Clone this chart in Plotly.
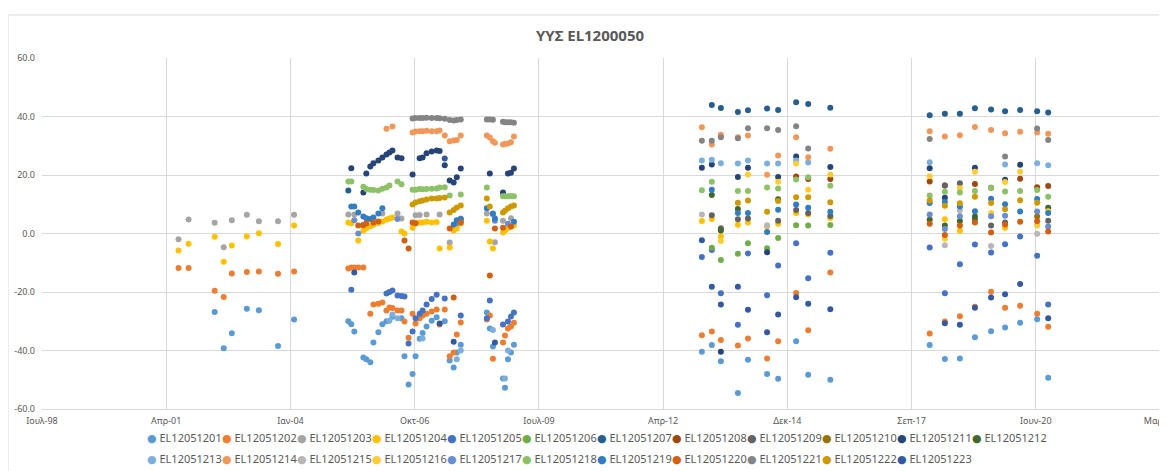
import datetime as dt
import plotly.graph_objects as go

N = None

# ---------------- dates ----------------
DATES_P1 = ["2001-07-27", "2001-10-16", "2002-05-14", "2002-07-26", "2002-09-29",
            "2003-01-28", "2003-05-05", "2003-10-06", "2004-02-12"]
DATES_P2 = ["2005-04-24", "2005-05-18", "2005-06-11", "2005-07-13", "2005-08-23",
            "2005-09-16", "2005-10-18", "2005-11-12", "2005-12-22", "2006-01-23",
            "2006-02-25", "2006-03-21", "2006-04-14", "2006-05-25", "2006-06-26",
            "2006-07-20", "2006-08-22", "2006-09-23", "2006-10-17", "2006-11-19",
            "2006-12-13", "2007-01-14", "2007-02-24", "2007-04-05", "2007-04-29",
            "2007-06-09", "2007-07-19", "2007-08-20", "2007-09-14", "2007-10-16",
            "2008-05-13", "2008-06-06", "2008-07-01", "2008-07-17", "2008-09-20",
            "2008-10-06", "2008-10-30", "2008-11-23", "2008-12-17"]
DATES_P3 = ["2013-02-07", "2013-04-28", "2013-07-10", "2013-11-24", "2014-02-13",
            "2014-07-17", "2014-10-14", "2015-03-08", "2015-06-13", "2015-12-08"]
DATES_P4 = ["2018-02-15", "2018-06-17", "2018-10-16", "2019-02-14", "2019-06-24",
            "2019-10-15", "2020-02-13", "2020-06-29", "2020-09-26"]

# ---------------- axis ticks ----------------
X_TICK_LABELS = ["Ιουλ-98", "Απρ-01", "Ιαν-04", "Οκτ-06", "Ιουλ-09",
                 "Απρ-12", "Δεκ-14", "Σεπ-17", "Ιουν-20", "Μαρ-23"]
Y_TICKS = [-60, -40, -20, 0, 20, 40, 60]

SERIES_NAMES = ["EL120512%02d" % i for i in range(1, 24)]
COLORS = ["#5B9BD5", "#ED7D31", "#A5A5A5", "#FFC000", "#4472C4", "#70AD47",
          "#255E91", "#9E480E", "#636363", "#997300", "#264478", "#43682B",
          "#7CAFDD", "#F1975A", "#B7B7B7", "#FFCD33", "#698ED0", "#8CC168",
          "#327DC2", "#D26012", "#848484", "#CC9A00", "#335AA1"]

# ---------------- period 1 (2001-2004) ----------------
P1_S01 = [N, N, -26.8, -39.2, -34.1, -25.7, -26.2, -38.5, -29.4]
P1_S02 = [-11.8, -11.8, -19.6, -21.7, -13.7, -13.2, -13.0, -13.8, -13.0]
P1_S03 = [-2.0, 4.8, 3.7, -4.7, 4.5, 6.4, 4.2, 4.2, 6.4]
P1_S04 = [-5.8, -3.5, -1.1, -9.7, -4.1, -1.0, 0.1, -3.6, 2.7]

# ---------------- period 2 (2005-2008), sparse: date index -> value ----------------
P2_S01 = {0: -30.0, 1: -31.0, 2: -33.5, 4: -42.4, 5: -43.0, 6: -44.0, 7: -37.3, 8: -33.8,
          9: -31.0, 10: -30.0, 12: -28.5, 14: -29.0, 15: -42.0, 16: -51.6, 17: -48.0,
          18: -42.0, 19: -36.0, 20: -34.0, 21: -31.8, 22: -29.8, 23: -28.6, 25: -30.0,
          26: -43.4, 27: -45.8, 28: -40.7, 29: -38.0, 30: -27.0, 31: -32.5, 32: -38.6,
          34: -49.6, 35: -52.7, 36: -43.0, 37: -40.7, 38: -38.0}
P2_S02 = {0: -12.0, 1: -11.6, 2: -11.6, 3: -11.6, 4: -11.6, 6: -27.4, 7: -24.3, 8: -24.0,
          9: -23.6, 10: -26.3, 11: -25.3, 12: -25.5, 13: -26.3, 14: -26.3, 15: -30.1,
          16: -35.6, 17: -27.4, 18: -30.8, 19: -29.0, 20: -28.0, 21: -27.4, 22: -26.7,
          23: -26.0, 24: -31.1, 25: -26.0, 26: -42.0, 27: -40.7, 28: -34.5, 29: -30.4,
          30: -29.4, 31: -28.0, 32: -42.8, 34: -37.3, 35: -34.9, 36: -32.5, 37: -31.8,
          38: -30.5}
P2_S03 = {0: 6.5, 2: 6.5, 9: 6.8, 13: 6.8, 14: 5.1, 18: 6.2, 19: 6.3, 21: 6.5, 24: 6.5,
          26: -3.1, 27: 2.0, 29: 5.1, 30: 6.8, 32: 6.5, 33: -3.0, 34: 4.4, 37: 5.2}
P2_S04 = {0: 3.8, 1: 3.5, 3: -2.4, 4: 1.0, 5: 1.8, 6: 2.5, 7: 3.0, 8: 3.6, 9: 4.1,
          10: 4.8, 11: 5.1, 12: 5.5, 14: 0.7, 15: 0.0, 17: 2.0, 18: 3.4, 19: 3.8,
          20: 3.8, 21: 4.0, 22: 3.8, 23: 3.9, 24: -5.1, 26: -4.8, 27: 1.0, 28: 1.7,
          29: 3.4, 30: 4.4, 31: -2.7, 32: -5.1, 34: 0.3, 35: 1.0, 36: 1.8, 37: 2.3, 38: 2.7}
P2_S05 = {1: -19.2, 10: -20.5, 11: -20.0, 12: -19.5, 13: -21.2, 14: -21.4, 15: -21.5,
          16: -37.6, 17: -33.5, 18: -29.0, 19: -27.4, 20: -26.3, 21: -24.3, 22: -22.4,
          23: -20.9, 25: -22.2, 29: -28.0, 30: -29.0, 31: -22.9, 34: -31.1, 36: -30.1,
          37: -28.4, 38: -27.0}
P2_S07 = {0: 14.7}
P2_S11 = {1: 22.3, 4: 14.0, 5: 20.5, 6: 22.9, 7: 24.0, 8: 25.0, 9: 26.0, 10: 27.0,
          11: 27.7, 12: 28.4, 13: 26.0, 14: 25.7, 17: 20.2, 19: 25.7, 20: 26.0, 21: 27.4,
          22: 28.0, 23: 28.4, 24: 28.2, 25: 23.3, 26: 18.1, 27: 17.4, 28: 19.2, 29: 22.2,
          31: 20.5, 34: 14.0, 36: 20.5, 37: 20.8, 38: 22.2}
P2_S13 = {11: -29.8, 12: -27.7, 13: -29.0, 20: -35.9, 28: -43.0, 29: -40.0, 32: -33.0,
          35: -49.6, 36: -40.0}
P2_S14 = {10: 35.8, 12: 36.6, 17: 34.5, 18: 34.9, 19: 35.0, 20: 35.0, 21: 35.1, 22: 35.0,
          23: 35.0, 24: 35.2, 25: 33.5, 26: 31.5, 27: 31.8, 28: 32.0, 29: 33.5, 30: 33.5,
          31: 32.8, 32: 31.5, 33: 31.0, 34: 30.4, 35: 30.6, 36: 30.8, 37: 31.2, 38: 33.2}
P2_S17 = {2: 4.5, 3: 0.0, 4: 3.0, 13: 5.0, 28: 3.5, 29: 4.4, 33: 4.4, 36: 3.3}
P2_S18 = {0: 17.8, 1: 17.8, 4: 16.0, 5: 15.2, 6: 15.0, 7: 14.9, 8: 14.7, 9: 15.3,
          10: 15.7, 11: 16.4, 13: 17.8, 14: 16.8, 17: 15.0, 18: 15.0, 19: 15.2, 20: 15.1,
          21: 15.2, 22: 15.3, 23: 15.4, 24: 15.7, 25: 15.8, 26: 13.0, 29: 13.3, 30: 15.7,
          34: 12.7, 35: 12.7, 36: 12.7, 37: 12.8, 38: 12.7}
P2_S19 = {1: 9.2, 2: 9.2, 3: 7.2, 4: 5.8, 5: 5.2, 6: 5.0, 7: 5.5, 8: 6.8, 9: 8.6,
          27: 3.1, 28: 4.5, 29: 5.0, 30: 8.6, 32: 6.8, 33: 5.1, 38: 4.0}
P2_S20 = {3: 2.7, 4: 2.8, 5: 3.4, 7: 3.8, 8: 4.1, 15: -2.4, 16: -5.1, 17: 3.8, 18: 3.5,
          26: 1.7, 27: -21.9, 29: 3.8, 31: -14.4, 33: 1.7, 34: 2.0, 37: 2.4}
P2_S21 = {17: 39.3, 18: 39.5, 19: 39.5, 20: 39.5, 21: 39.6, 22: 39.5, 23: 39.5, 24: 39.4,
          25: 39.2, 26: 38.8, 27: 38.6, 28: 38.8, 29: 39.0, 30: 39.0, 31: 39.0, 32: 38.9,
          34: 38.2, 35: 38.0, 36: 38.0, 37: 38.0, 38: 37.9}
P2_S22 = {17: 9.9, 18: 10.6, 19: 11.0, 20: 11.3, 21: 11.6, 22: 12.0, 23: 12.0, 24: 12.1,
          25: 12.3, 26: 7.2, 27: 8.0, 28: 8.9, 29: 9.6, 30: 12.0, 31: 9.2, 34: 7.2,
          35: 7.8, 36: 8.6, 37: 9.2, 38: 9.6}
P2_S23 = {2: -13.3, 24: -30.8, 25: 25.6, 27: -37.0, 33: -37.3}

# ---------------- period 3 (2013-2015) ----------------
P3_S01 = [-40.4, -38.1, -43.7, -54.5, -43.2, -48.0, -49.7, -36.8, -48.3, -50.0]
P3_S02 = [-34.8, -33.5, -36.4, -38.3, -35.9, -42.7, -36.8, -20.3, -33.1, -13.3]
P3_S04 = [4.3, 5.0, -1.0, 3.0, 3.8, 2.4, 3.3, 7.0, 6.5, 5.3]
P3_S05 = [-8.0, -5.6, -20.4, -31.2, -6.8, -21.1, -10.9, -3.3, -15.3, -6.6]
P3_S06 = [N, -4.9, -9.1, -6.9, -3.3, -5.0, -1.5, 2.8, 2.7, 2.9]
P3_S07 = [N, 43.9, 42.9, 41.5, 42.1, 42.7, 42.2, 44.9, 44.3, 43.0]
P3_S08 = [N, N, N, N, N, N, N, 19.5, 18.6, 18.6]
P3_S09 = [N, 6.2, 1.8, 4.9, 5.1, N, 4.4, 8.0, 7.0, 6.0]
P3_S11 = [22.5, 23.6, -40.4, 19.3, 22.5, -6.4, 19.3, 26.3, N, 22.7]
P3_S12 = [N, 13.2, 1.0, 8.4, N, N, 11.7, N, N, N]
P3_S13 = [25.0, 25.2, 24.0, 23.9, 25.0, 23.9, 23.9, 25.0, 24.3, N]
P3_S14 = [36.3, 30.4, 33.8, 32.9, 33.5, 20.1, 26.7, 32.9, 26.1, 29.0]
P3_S15 = [6.5, N, N, N, N, 2.8, N, N, N, N]
P3_S16 = [N, N, -2.6, N, 20.2, N, 17.7, 23.9, 15.0, 20.2]
P3_S18 = [14.8, 17.7, N, 14.5, 14.5, 15.7, 15.4, 18.5, 19.2, 16.3]
P3_S19 = [N, 15.0, N, 7.0, 7.0, 0.5, 8.1, 9.9, 8.8, 7.4]
P3_S21 = [31.7, 31.7, 32.9, 32.6, 36.0, 36.0, 35.4, 36.7, 29.1, N]
P3_S22 = [N, N, N, 10.5, 11.3, 7.4, 11.1, 12.4, 12.4, 10.7]
P3_S23 = [-2.3, -18.2, -24.3, -18.2, -26.1, -33.8, -27.7, -21.8, -24.0, -25.9]

# ---------------- period 4 (2018-2020) ----------------
P4_S01 = [-38.1, -42.9, -42.7, -35.5, -33.4, -32.1, -30.5, -29.3, -49.3]
P4_S02 = [-34.2, -30.1, -28.3, -25.0, -19.9, -25.4, -24.7, -27.4, -31.9]
P4_S04 = [N, 4.9, 0.9, N, N, 2.0, N, N, N]
P4_S05 = [-4.8, -20.4, -10.5, -3.8, -6.5, -3.7, -1.0, -7.6, -24.3]
P4_S07 = [40.4, 40.9, 40.9, 42.8, 42.4, 41.8, 42.2, 41.8, 41.4]
P4_S08 = [17.8, 16.4, N, 16.9, 15.6, N, 18.7, 15.8, 16.2]
P4_S09 = [N, 16.4, 17.2, 4.9, 2.7, 3.8, N, N, 4.4]
P4_S10 = [N, N, N, N, N, N, N, 5.8, N]
P4_S11 = [22.3, 12.2, N, 22.5, N, 18.4, 23.5, N, N]
P4_S12 = [4.7, 2.7, 4.3, 5.8, N, N, N, N, 8.8]
P4_S13 = [24.4, N, N, N, N, 23.6, N, 24.0, 23.3]
P4_S14 = [35.0, 33.2, 33.6, 36.4, 35.4, 34.3, 34.8, 34.5, 34.1]
P4_S15 = [N, -4.0, 7.9, N, -4.3, N, N, -0.1, N]
P4_S16 = [19.6, -1.8, 15.5, 21.1, 7.0, 17.6, 21.1, 2.7, 7.6]
P4_S17 = [6.5, 1.5, 5.9, N, 5.9, 6.1, N, 7.5, 2.4]
P4_S18 = [13.0, 14.3, 14.0, 14.5, 15.6, 14.4, 14.5, 14.9, 12.6]
P4_S19 = [10.4, 10.8, 9.2, 7.6, 11.9, 10.0, 7.5, 11.8, 7.0]
P4_S20 = [3.3, -0.5, 2.7, 3.8, 0.3, 3.1, 4.0, 4.2, 0.7]
P4_S21 = [32.3, N, N, N, N, 26.3, N, 35.9, 32.0]
P4_S22 = [11.3, 9.5, 10.3, 12.6, 10.4, 8.3, 11.4, 10.5, N]
P4_S23 = [N, -30.7, -31.2, -25.4, -21.9, -20.8, -17.3, N, -29.0]

# ---------------- assemble ----------------
g = globals()


def series_points(i):
    xs, ys = [], []
    key = "S%02d" % i
    p1 = g.get("P1_" + key)
    if p1:
        for d, v in zip(DATES_P1, p1):
            if v is not None:
                xs.append(d); ys.append(v)
    p2 = g.get("P2_" + key)
    if p2:
        for k in sorted(p2):
            xs.append(DATES_P2[k]); ys.append(p2[k])
    for dates, pref in ((DATES_P3, "P3_"), (DATES_P4, "P4_")):
        arr = g.get(pref + key)
        if arr:
            for d, v in zip(dates, arr):
                if v is not None:
                    xs.append(d); ys.append(v)
    return xs, ys


fig = go.Figure()
for i in range(1, 24):
    xs, ys = series_points(i)
    fig.add_trace(go.Scatter(
        x=xs, y=ys, mode="markers", name=SERIES_NAMES[i - 1], showlegend=False,
        marker=dict(size=6, color=COLORS[i - 1], line=dict(width=0)),
    ))


def legend_entry(name, leg):
    fig.add_trace(go.Scatter(
        x=[None], y=[None], mode="markers", name=name,
        marker=dict(size=1, color="rgba(0,0,0,0)"),
        legend=leg, hoverinfo="skip",
    ))


# Excel-like legend entries: coloured bullet right next to the name
for i in range(1, 24):
    leg = "legend" if i <= 12 else "legend2"
    legend_entry('<span style="color:%s">●</span> %s' % (COLORS[i - 1], SERIES_NAMES[i - 1]), leg)
    if i in (12, 23):
        legend_entry("\u00a0\u00a0\u00a0", leg)  # blank spacer so the last name is not clipped

# Excel-style axis: 1000-day major unit starting at serial 36000
base = dt.date(1998, 7, 24)
tickvals = [(base + dt.timedelta(days=1000 * k)).isoformat() for k in range(len(X_TICK_LABELS))]

FONT = "Noto Sans, Open Sans, DejaVu Sans, sans-serif"
GRID = "#D9D9D9"
TXT = "#595959"

# the page body adds an 8px offset; layout positions compensate for it
OFF = 8
W, H = 1167, 471
PL, PR, PT, PB = 42 - OFF, 1160 - OFF, 58 - OFF, 409 - OFF
PW, PH = PR - PL, PB - PT
LEG_X = (107 - OFF - PL) / PW

fig.update_layout(
    width=W, height=H,
    margin=dict(l=PL, r=W - PR, t=PT, b=H - PB, autoexpand=False),
    paper_bgcolor="white", plot_bgcolor="white",
    font=dict(family=FONT, color=TXT),
    title=dict(text="<b>ΥΥΣ EL1200050</b>", x=(590 - OFF) / W, xanchor="center",
               y=1 - (36 - OFF) / H, yanchor="middle", yref="container",
               font=dict(size=15, color=TXT, family=FONT)),
    xaxis=dict(type="date", range=[tickvals[0], tickvals[-1]],
               tickmode="array", tickvals=tickvals, ticktext=X_TICK_LABELS,
               showgrid=True, gridcolor=GRID, gridwidth=1,
               showline=True, linecolor=GRID, linewidth=1, mirror=False,
               zeroline=False, ticks="", ticklabelstandoff=3,
               ticklabeloverflow="allow", automargin=False,
               tickfont=dict(size=9, color=TXT)),
    yaxis=dict(range=[-60, 60], tickmode="array", tickvals=Y_TICKS,
               ticktext=["%.1f" % v for v in Y_TICKS],
               showgrid=True, gridcolor=GRID, gridwidth=1,
               zeroline=False, showline=False, ticks="", automargin=False,
               ticklabelstandoff=6,
               tickfont=dict(size=9, color=TXT)),
    legend=dict(orientation="h", x=LEG_X, xanchor="left", y=1 - (438 - OFF) / H,
                yanchor="middle", yref="container",
                font=dict(size=11, color=TXT, family=FONT), entrywidth=30,
                itemwidth=30, bgcolor="rgba(0,0,0,0)"),
    legend2=dict(orientation="h", x=LEG_X, xanchor="left", y=1 - (459 - OFF) / H,
                 yanchor="middle", yref="container",
                 font=dict(size=11, color=TXT, family=FONT), entrywidth=30,
                 itemwidth=30, bgcolor="rgba(0,0,0,0)"),
    showlegend=True,
)

# chart-area outline
fig.add_shape(type="rect", xref="paper", yref="paper",
              x0=(8 - OFF - PL) / PW, x1=(1185 - OFF - PL) / PW,
              y0=-(490 - OFF - PB) / PH, y1=1 + (PT - (15 - OFF)) / PH,
              line=dict(color=GRID, width=1), fillcolor="rgba(0,0,0,0)", layer="below")

fig.write_html("out.html")
